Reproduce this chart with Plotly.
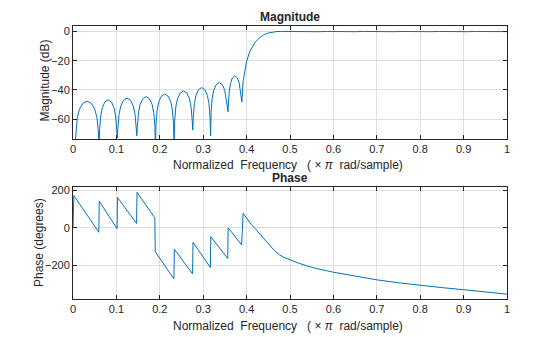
import plotly.graph_objects as go

# ---- Magnitude response (normalized frequency, dB) ----
mag_freq = [
    0.004, 0.0067, 0.010, 0.0149, 0.0226, 0.0325, 0.0424, 0.0501, 0.055, 0.0584,
    0.060, 0.0613, 0.0638, 0.0676, 0.0734, 0.081, 0.0886, 0.0944, 0.0982, 0.1007,
    0.102, 0.1034, 0.1061, 0.1101, 0.1164, 0.1245, 0.1326, 0.1389, 0.1430, 0.1456,
    0.147, 0.1483, 0.1509, 0.1547, 0.1608, 0.1685, 0.1762, 0.1823, 0.1861, 0.1887,
    0.190, 0.1913, 0.1939, 0.1977, 0.2038, 0.2115, 0.2192, 0.2253, 0.2291, 0.2317,
    0.233, 0.2343, 0.2369, 0.2407, 0.2468, 0.2545, 0.2622, 0.2683, 0.2721, 0.2747,
    0.276, 0.2772, 0.2797, 0.2834, 0.2891, 0.2965, 0.3039, 0.3096, 0.3133, 0.3158,
    0.317, 0.3182, 0.3206, 0.3242, 0.3298, 0.337, 0.3442, 0.3498, 0.3534, 0.3558,
    0.357, 0.358, 0.3599, 0.3628, 0.3672, 0.373, 0.3788, 0.3832, 0.3861, 0.388,
    0.389, 0.392, 0.3955, 0.400, 0.407, 0.415, 0.420, 0.430, 0.440, 0.450,
    0.460, 0.470, 0.480, 0.500, 0.522, 0.543, 0.565, 0.586, 0.608, 0.629,
    0.651, 0.672, 0.694, 0.715, 0.737, 0.758, 0.780, 0.801, 0.823, 0.844,
    0.866, 0.887, 0.909, 0.930, 0.952, 0.973, 1.000,
]
mag_db = [
    -80, -68.3, -58.9, -53.2, -49.3, -47.8, -49.3, -53.2, -58.9, -68.3,
    -80, -67.3, -57.9, -52.2, -48.3, -46.8, -48.3, -52.2, -57.9, -67.3,
    -73, -66.2, -56.8, -51.1, -47.2, -45.7, -47.2, -51.1, -56.8, -66.2,
    -71.5, -65.1, -55.7, -50.0, -46.1, -44.6, -46.1, -50.0, -55.7, -65.1,
    -80, -63.3, -53.9, -48.2, -44.3, -42.8, -44.3, -48.2, -53.9, -63.3,
    -80, -61.2, -51.8, -46.1, -42.2, -40.7, -42.2, -46.1, -51.8, -61.2,
    -67.6, -58.9, -49.5, -43.8, -39.9, -38.4, -39.9, -43.8, -49.5, -58.9,
    -71.7, -55.5, -46.1, -40.4, -36.5, -35.0, -36.5, -40.4, -46.1, -52.0,
    -55.0, -48.0, -41.4, -35.7, -31.8, -30.3, -31.8, -35.7, -41.4, -46.0,
    -48.3, -34.0, -26.5, -20.5, -14.0, -9.5, -7.2, -4.2, -2.2, -1.0,
    -0.3, 0.0, 0.08, -0.05, -0.15, 0.05, -0.12, 0.05, -0.12, 0.05,
    -0.1, 0.05, -0.1, 0.05, -0.1, 0.05, -0.1, 0.05, -0.1, 0.05,
    -0.1, 0.05, -0.1, 0.05, -0.1, 0.05, -0.05,
]

# ---- Phase response (normalized frequency, degrees) ----
ph_freq = [
    0.0, 0.002, 0.0595,
    0.0605, 0.1015,
    0.1025, 0.1465,
    0.1475, 0.1885,
    0.1895, 0.2325,
    0.2335, 0.2755,
    0.2765, 0.3165,
    0.3175, 0.3565,
    0.3575, 0.3885,
    0.392, 0.410, 0.430, 0.450, 0.465, 0.476, 0.485, 0.499, 0.520, 0.538,
    0.560, 0.599, 0.650, 0.699, 0.750, 0.799, 0.850, 0.899, 0.950, 1.000,
]
ph_deg = [
    0, 172, -24,
    142, -5,
    162, 23,
    190, 53,
    -128, -274,
    -115, -247,
    -78, -213,
    -48, -165,
    0, -92,
    77, 20, -30, -85, -125, -146, -158, -172, -190, -204,
    -218, -238, -260, -279, -295, -309, -321, -332, -344, -356,
]

x_ticks = [0, 0.1, 0.2, 0.3, 0.4, 0.5, 0.6, 0.7, 0.8, 0.9, 1]
x_tick_labels = ["0", "0.1", "0.2", "0.3", "0.4", "0.5", "0.6", "0.7", "0.8", "0.9", "1"]
mag_ticks = [-60, -40, -20, 0]
ph_ticks = [-200, 0, 200]

LINE = "#0072BD"
AX = "#262626"
GRID = "#dfdfdf"
FONT = "Liberation Sans, Arial, Helvetica, sans-serif"
TICK_SIZE = 11
LABEL_SIZE = 12

fig = go.Figure()
fig.add_trace(go.Scatter(x=mag_freq, y=mag_db, mode="lines",
                         line=dict(color=LINE, width=1), xaxis="x", yaxis="y",
                         showlegend=False, hoverinfo="skip"))
fig.add_trace(go.Scatter(x=ph_freq, y=ph_deg, mode="lines",
                         line=dict(color=LINE, width=1), xaxis="x2", yaxis="y2",
                         showlegend=False, hoverinfo="skip"))

W, H = 560, 337
ML, MR, MT, MB = 73, 53, 25, 38
PW, PH = W - ML - MR, H - MT - MB


def px(x):
    return (x - ML) / PW


def py(y):
    return (H - MB - y) / PH


common_x = dict(range=[0, 1], tickvals=x_ticks, ticktext=x_tick_labels,
                ticks="inside", ticklen=4, tickcolor=AX, tickwidth=1,
                showline=True, linecolor=AX, linewidth=1, mirror="allticks",
                showgrid=True, gridcolor=GRID, gridwidth=1, zeroline=False,
                tickfont=dict(size=TICK_SIZE, color=AX, family=FONT), fixedrange=True)
common_y = dict(ticks="inside", ticklen=4, tickcolor=AX, tickwidth=1,
                showline=True, linecolor=AX, linewidth=1, mirror="allticks",
                showgrid=True, gridcolor=GRID, gridwidth=1, zeroline=False,
                tickfont=dict(size=TICK_SIZE, color=AX, family=FONT), fixedrange=True)

fig.update_layout(
    width=W, height=H,
    margin=dict(l=ML, r=MR, t=MT, b=MB),
    paper_bgcolor="white", plot_bgcolor="white",
    font=dict(family=FONT, size=TICK_SIZE, color=AX),
    xaxis=dict(domain=[0, 1], anchor="y", **common_x),
    yaxis=dict(domain=[py(139), py(25.7)], anchor="x", range=[-73.7, 4.0],
               tickvals=mag_ticks, **common_y),
    xaxis2=dict(domain=[0, 1], anchor="y2", **common_x),
    yaxis2=dict(domain=[0, py(187.3)], anchor="x2", range=[-382, 216.6],
                tickvals=ph_ticks, **common_y),
)

XLAB = "Normalized\u00a0 Frequency\u00a0\u00a0\u00a0(\u00a0\u00d7\u00a0<i>\u03c0</i>\u00a0 rad/sample)"
ann = [
    ("<b>Magnitude</b>", 290, 17, 0),
    ("<b>Phase</b>", 290, 178, 0),
    (XLAB, 288, 165, 0),
    (XLAB, 288, 326, 0),
    ("Magnitude (dB)", 44.5, 81, -90),
    ("Phase (degrees)", 39, 243, -90),
]
for text, x, y, rot in ann:
    fig.add_annotation(text=text, x=px(x), y=py(y), xref="paper", yref="paper",
                       showarrow=False, textangle=rot, xanchor="center", yanchor="middle",
                       font=dict(size=LABEL_SIZE, color=AX, family=FONT))

fig.write_html("out.html", config={"displayModeBar": False})
